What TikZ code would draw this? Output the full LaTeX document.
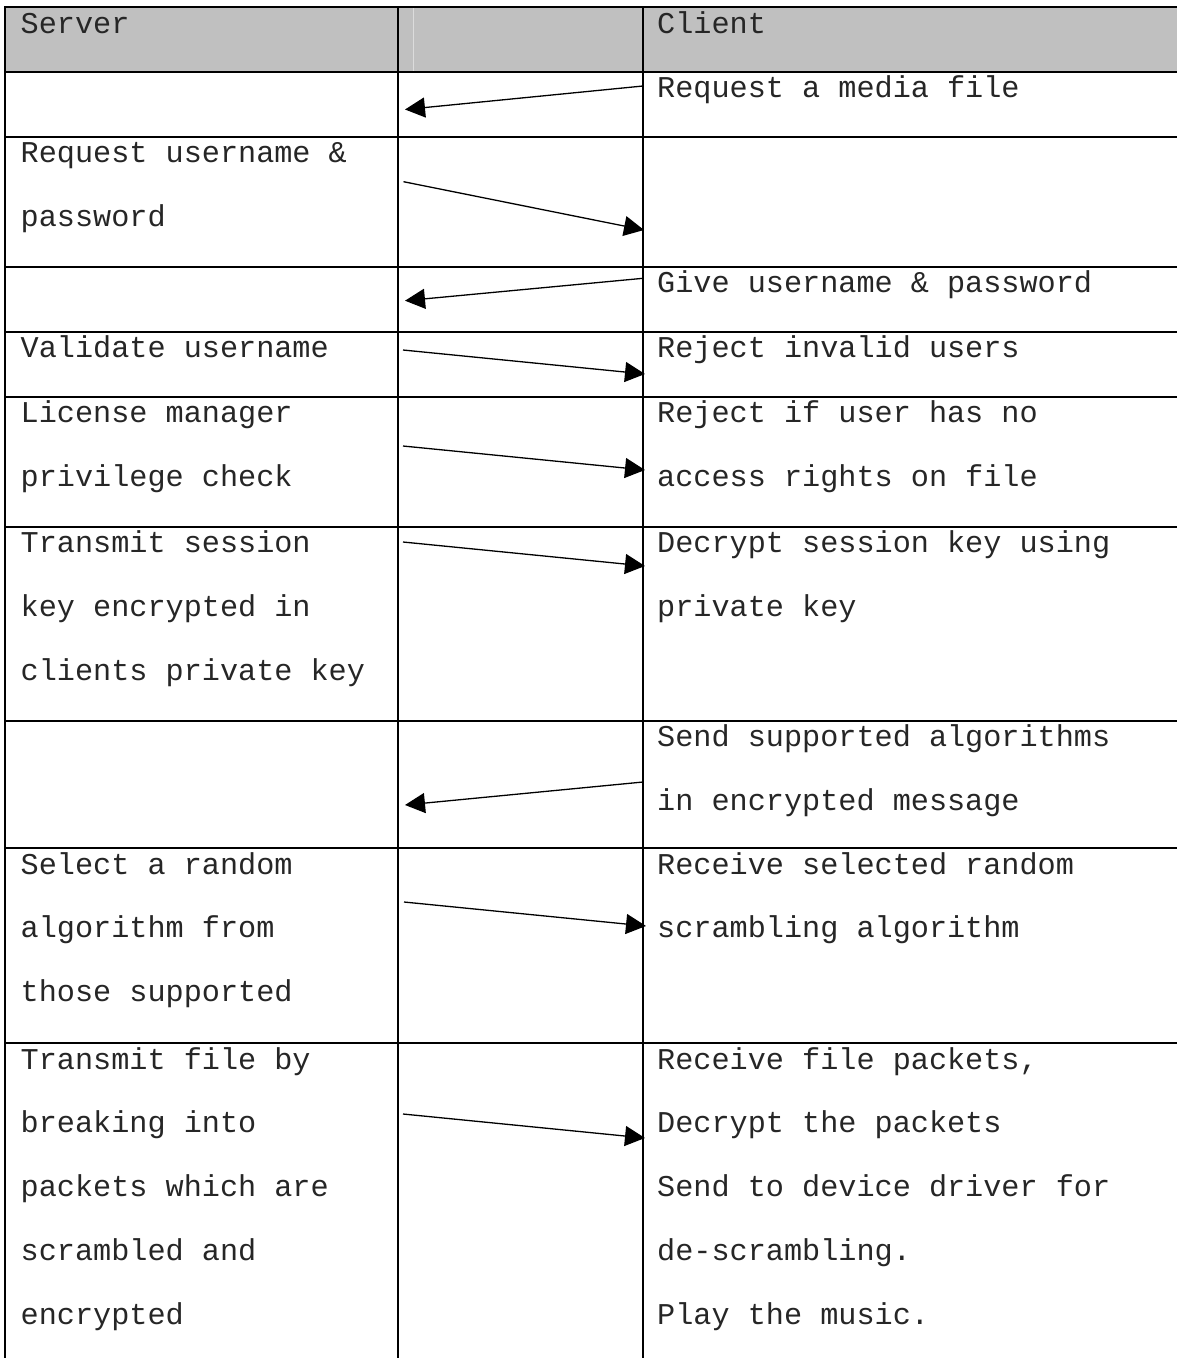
\documentclass[tikz,border=0pt]{standalone}
\usepackage{fontspec}
\newfontfamily\cellfont{Liberation Mono}
\usetikzlibrary{arrows.meta}
\definecolor{headgray}{HTML}{C0C0C0}
\definecolor{headrule}{HTML}{DCDCDC}
\definecolor{inktext}{HTML}{262626}
\newcommand\cellsetup{\cellfont\fontsize{30.2}{63.8}\selectfont\frenchspacing}
% keep word spaces one full character cell wide
\newcommand\cellspaces{\spaceskip=0.6em plus 0pt minus 0pt\relax
  \xspaceskip=0.6em plus 0pt minus 0pt\relax}
\begin{document}
\begin{tikzpicture}[x=1pt,y=-1pt,
  grid/.style={line width=2pt,line cap=rect},
  msg/.style={line width=1.3pt,-{Triangle[length=20pt,width=20pt]}},
  cell/.style={anchor=base west,inner sep=0pt,align=flush left,text width=500pt,
    text=inktext,font=\cellsetup,execute at begin node=\cellspaces}]
\useasboundingbox (0,0) rectangle (1177,1358);

% header band
\fill[headgray] (5,7) rectangle (1177,71.5);
\draw[headrule,line width=1pt] (413,8) -- (413,70.5);

% table rules
\foreach \y in {7,71.5,136.7,266.7,331.7,396.7,526.7,720.5,848,1043}
  \draw[grid] (5,\y) -- (1177,\y);
\foreach \x in {5,398,643}
  \draw[grid] (\x,7) -- (\x,1358);

% header
\node[cell] (hs) at (20.5,33) {Server};
\node[cell] (hc) at (657,33) {Client};

% server column
\node[cell] (s2) at (20.5,162.7) {Request username \&\\password};
\node[cell] (s4) at (20.5,357.7) {Validate username};
\node[cell] (s5) at (20.5,422.7) {License manager\\privilege check};
\node[cell] (s6) at (20.5,552.7) {Transmit session\\key encrypted in\\clients private key};
\node[cell] (s8) at (20.5,874) {Select a random\\algorithm from\\those supported};
\node[cell] (s9) at (20.5,1069) {Transmit file by\\breaking into\\packets which are\\scrambled and\\encrypted};

% client column
\node[cell] (c1) at (657,97.5) {Request a media file};
\node[cell] (c3) at (657,292.7) {Give username \& password};
\node[cell] (c4) at (657,357.7) {Reject invalid users};
\node[cell] (c5) at (657,422.7) {Reject if user has no\\access rights on file};
\node[cell] (c6) at (657,552.7) {Decrypt session key using\\private key};
\node[cell] (c7) at (657,746.5) {Send supported algorithms\\in encrypted message};
\node[cell] (c8) at (657,874) {Receive selected random\\scrambling algorithm};
\node[cell] (c9) at (657,1069) {Receive file packets,\\Decrypt the packets\\Send to device driver for\\de-scrambling.\\Play the music.};

% message arrows
\coordinate (m1a) at (643,86);    \coordinate (m1b) at (405,109.5);
\coordinate (m2a) at (403.5,181.7); \coordinate (m2b) at (644,230);
\coordinate (m3a) at (643,278.3); \coordinate (m3b) at (405,300.7);
\coordinate (m4a) at (403,350);   \coordinate (m4b) at (645,374);
\coordinate (m5a) at (403,446);   \coordinate (m5b) at (645,470);
\coordinate (m6a) at (403,542);   \coordinate (m6b) at (645,566);
\coordinate (m7a) at (643,782);   \coordinate (m7b) at (405,805);
\coordinate (m8a) at (404,902);   \coordinate (m8b) at (646,926);
\coordinate (m9a) at (403,1114);  \coordinate (m9b) at (645,1138);
\foreach \m in {1,...,9}
  \draw[msg] (m\m a) -- (m\m b);
\end{tikzpicture}
\end{document}
